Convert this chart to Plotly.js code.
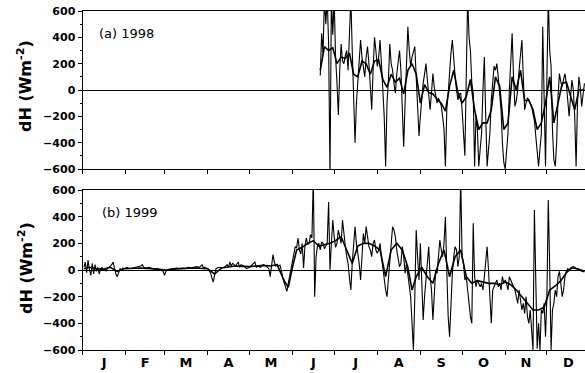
<!DOCTYPE html>
<html>
<head>
<meta charset="utf-8">
<script src="https://cdn.plot.ly/plotly-3.0.1.min.js"></script>
<style>html,body{margin:0;padding:0;background:#fff;}#chart{width:585px;height:373px;}</style>
</head>
<body>
<div id="chart"></div>
<script>
// Month labels and positions (day of year)
const monthLabels = ["J","F","M","A","M","J","J","A","S","O","N","D"];
const monthStarts = [0,31,59,90,120,151,181,212,243,273,304,334];
const monthMids = [15.5,45,74.5,105,135.5,166,196.5,227.5,258,288.5,319,349.5];
const yTicks = [-600,-400,-200,0,200,400,600];
const yMinor = [-500,-300,-100,100,300,500];

// (a) 1998 - raw series (day of year, W m-2)
const days98 = [171,172,173,174,175,176,177,178,179,180,181,182,183,184,185,186,187,188,189,190,
191,192,193,194,195,196,197,198,199,200,201,202,203,204,205,206,207,208,209,210,
211,212,213,214,215,216,217,218,219,220,221,222,223,224,225,226,227,228,229,230,
231,232,233,234,235,236,237,238,239,240,241,242,243,244,245,246,247,248,249,250,
251,252,253,254,255,256,257,258,259,260,261,262,263,264,265,266,267,268,269,270,
271,272,273,274,275,276,277,278,279,280,281,282,283,284,285,286,287,288,289,290,
291,292,293,294,295,296,297,298,299,300,301,302,303,304,305,306,307,308,309,310,
311,312,313,314,315,316,317,318,319,320,321,322,323,324,325,326,327,328,329,330,
331,332,333,334,335,336,337,338,339,340,341,342,343,344,345,346,347,348,349,350,
351,352,353,354,355,356,357,358,359,360,361];
const dH98 = [110,430,280,700,500,700,350,-650,700,420,700,250,60,-190,150,350,220,200,260,300,
150,450,700,300,-100,-400,-100,50,200,380,250,180,100,250,330,200,50,-150,150,400,
300,180,250,380,200,-25,-200,-580,-100,75,350,200,150,50,-25,120,200,300,150,-200,
-430,-100,200,480,300,180,250,300,330,100,-100,-350,-200,-50,50,120,200,80,-50,-150,
-20,125,20,-50,-100,-60,-100,-120,-200,-300,-580,-150,-25,150,280,380,220,100,0,-75,
-30,-25,-150,-300,-500,100,700,400,300,50,-25,-580,-200,-300,-580,-450,-330,0,250,-200,
-580,-450,-330,-75,50,180,150,200,100,-25,-150,-400,-550,-600,-450,-330,0,250,430,100,
-125,-80,0,150,300,380,100,-150,-100,-60,-75,-100,-125,-180,-230,-350,-450,-580,-450,-330,
480,-100,-580,100,700,300,180,-300,-530,-580,-400,-50,125,60,25,80,125,40,-80,-200,
-50,75,0,-200,-580,-100,100,20,-125,-30,50];

// (a) 1998 - smoothed series
const daysS98 = [171,174,177,180,183,186,189,192,195,198,201,204,207,210,213,216,219,222,225,228,
231,234,237,240,243,246,249,252,255,258,261,264,267,270,273,276,279,282,285,288,
291,294,297,300,303,306,309,312,315,318,321,324,327,330,333,336,339,342,345,348,
351,354,357,361];
const dHS98 = [150,330,300,320,200,250,240,280,120,100,220,200,120,220,230,80,20,120,60,90,
-30,150,200,120,-100,40,-20,-30,-70,-100,-160,30,150,-20,-100,-50,80,-150,-300,-250,
-250,-150,100,30,-300,-250,100,0,150,-80,-80,-150,-300,-250,-100,100,-250,-100,50,60,
-50,-150,0,0];

// (b) 1999 - raw series
const days99 = [1,2,3,4,5,6,7,8,9,10,11,12,13,14,15,16,17,18,19,20,21,22,23,24,25,26,27,28,29,30,
32,34,36,38,40,42,43,44,46,48,50,52,54,56,58,59,60,62,64,66,68,70,72,74,76,78,80,82,84,86,87,88,90,92,94,95,96,98,100,
102,104,105,106,107,108,110,112,113,114,116,118,120,122,124,125,126,128,130,132,134,135,136,137,138,139,140,
141,142,143,144,145,146,147,148,149,150,151,152,153,154,155,156,157,158,159,160,
161,162,163,164,165,166,167,168,169,170,171,172,173,174,175,176,177,178,179,180,
181,182,183,184,185,186,187,188,189,190,191,192,193,194,195,196,197,198,199,200,
201,202,203,204,205,206,207,208,209,210,211,212,213,214,215,216,217,218,219,220,
221,222,223,224,225,226,227,228,229,230,231,232,233,234,235,236,237,238,239,240,
241,242,243,244,245,246,247,248,249,250,251,252,253,254,255,256,257,258,259,260,
261,262,263,264,265,266,267,268,269,270,271,272,273,274,275,276,277,278,279,280,
281,282,283,284,285,286,287,288,289,290,291,292,293,294,295,296,297,298,299,300,
301,302,303,304,305,306,307,308,309,310,311,312,313,314,315,316,317,318,319,320,
321,322,323,324,325,326,327,328,329,330,331,332,333,334,335,336,337,338,339,340,
341,342,343,344,345,346,347,348,349,350,351,352,353,354,355,356,357,358,359,360,361];
const dH99 = [20,60,-20,75,0,-40,50,-30,40,-10,20,-30,10,20,0,10,-10,15,20,30,40,60,0,-30,-50,-10,10,0,15,10,
20,10,15,20,25,30,40,20,15,20,10,5,10,0,-10,-40,-10,5,10,10,15,10,15,10,20,15,20,25,20,40,15,20,10,-20,-90,-40,10,20,15,
20,40,20,60,30,50,30,60,20,40,30,10,20,40,60,20,30,20,40,30,10,-50,40,115,60,30,40,
30,37,0,-60,-100,-130,-160,-100,-40,-10,60,130,175,165,240,150,120,200,15,180,
240,190,200,265,240,700,-200,100,180,200,150,210,200,160,180,200,510,0,200,375,
250,170,200,300,250,200,375,250,180,100,50,-60,-150,50,200,325,200,125,50,-75,
100,275,200,325,250,175,150,100,200,225,150,125,150,200,100,0,-100,-150,-200,-50,
100,200,325,300,250,150,100,25,50,175,100,-25,50,-50,-150,-200,-400,-600,-200,300,
100,-75,200,-50,-375,-200,-75,100,175,-50,-150,-375,-200,0,-25,100,225,150,100,200,
400,0,-350,-500,-200,-25,100,175,150,25,100,700,100,50,-75,-50,-150,-275,-350,-400,
350,-50,-125,-75,-100,-125,-100,-150,-50,100,175,0,-200,-400,-150,-125,-100,-75,-125,-100,
-150,-50,-100,-75,-100,-150,-50,-75,-100,-125,-150,-200,-250,-150,-225,-300,-250,-325,-200,-350,
-400,-300,-450,-600,450,-200,-590,-400,-600,-300,-325,-250,-500,-200,525,25,-600,-300,-250,-150,
-200,-50,-10,-100,-200,-150,-50,-10,10,0,15,20,25,20,10,5,0,-5,-10,-12,-12];

// (b) 1999 - smoothed series
const daysS99 = [1,5,10,15,20,25,30,40,50,60,70,80,90,95,100,110,120,130,135,140,
145,148,151,154,158,162,166,170,174,178,182,186,190,194,198,202,206,210,214,218,
222,226,230,234,237,240,244,248,252,256,260,264,268,272,276,280,284,288,292,296,
300,304,308,312,316,320,324,328,332,336,340,344,348,352,356,361];
const dHS99 = [10,20,10,5,20,-10,10,15,10,0,10,15,10,-30,15,30,25,35,30,40,
-80,-130,20,150,170,200,220,180,190,200,220,250,150,50,180,200,200,180,150,-50,
150,200,150,20,-150,-50,20,-50,-100,50,150,-50,100,150,-50,-100,-80,-90,-100,-100,
-110,-90,-110,-150,-200,-250,-300,-300,-280,-150,-120,-80,-20,15,10,-10];

const FONT = "DejaVu Sans, Arial, sans-serif";
const thin = {color:"#000", width:1.1};
const thick = {color:"#000", width:1.6};

const traces = [
  {x:days98, y:dH98, type:"scatter", mode:"lines", line:thin, xaxis:"x", yaxis:"y", hoverinfo:"skip", name:"1998"},
  {x:daysS98, y:dHS98, type:"scatter", mode:"lines", line:thick, xaxis:"x", yaxis:"y", hoverinfo:"skip", name:"1998 smooth"},
  {x:days99, y:dH99, type:"scatter", mode:"lines", line:thin, xaxis:"x2", yaxis:"y2", hoverinfo:"skip", name:"1999"},
  {x:daysS99, y:dHS99, type:"scatter", mode:"lines", line:thick, xaxis:"x2", yaxis:"y2", hoverinfo:"skip", name:"1999 smooth"}
];

const H = 373, W = 585;
const xdom = [82.5/W, 1];
const xBase = {
  domain: xdom, range:[0,361.4], showgrid:false, zeroline:false,
  showline:true, linecolor:"#000", linewidth:1, mirror:true,
  tickmode:"array", tickvals:monthMids, ticktext:monthLabels, ticks:"", ticklen:0,
  minor:{tickmode:"array", tickvals:monthStarts, ticks:"outside", ticklen:4, tickcolor:"#000", tickwidth:1},
  tickfont:{family:FONT, size:13, color:"#000", weight:"bold"}, automargin:false, fixedrange:true
};
const yBase = {
  range:[-600,600], showgrid:false, zeroline:true, zerolinecolor:"#000", zerolinewidth:1,
  showline:true, linecolor:"#000", linewidth:1, mirror:false,
  tickmode:"array", tickvals:yTicks, ticks:"outside", ticklen:4, tickcolor:"#000",
  minor:{tickmode:"array", tickvals:yMinor, ticks:"outside", ticklen:2, tickcolor:"#000"},
  tickfont:{family:FONT, size:11, color:"#000", weight:"bold"}, automargin:false, fixedrange:true
};

const layout = {
  width:W, height:H, margin:{l:0,r:0,t:0,b:0},
  paper_bgcolor:"#fff", plot_bgcolor:"#fff", showlegend:false,
  xaxis: Object.assign({}, xBase, {anchor:"y", showticklabels:false}),
  yaxis: Object.assign({}, yBase, {anchor:"x", domain:[1-169/H, 1-11/H]}),
  xaxis2: Object.assign({}, xBase, {anchor:"y2", showticklabels:true}),
  yaxis2: Object.assign({}, yBase, {anchor:"x2", domain:[1-350/H, 1-190/H]}),
  annotations:[
    {text:"(a) 1998", xref:"paper", yref:"paper", x:97/W, y:1-33/H, xanchor:"left", yanchor:"middle", showarrow:false, font:{family:FONT,size:13,color:"#000"}},
    {text:"(b) 1999", xref:"paper", yref:"paper", x:100/W, y:1-212/H, xanchor:"left", yanchor:"middle", showarrow:false, font:{family:FONT,size:13,color:"#000"}},
    {text:"dH (Wm<sup>-2</sup>)", xref:"paper", yref:"paper", x:25/W, y:1-86/H, textangle:-90, xanchor:"center", yanchor:"middle", showarrow:false, font:{family:FONT,size:16,color:"#000", weight:"bold"}},
    {text:"dH (Wm<sup>-2</sup>)", xref:"paper", yref:"paper", x:25/W, y:1-268/H, textangle:-90, xanchor:"center", yanchor:"middle", showarrow:false, font:{family:FONT,size:16,color:"#000", weight:"bold"}}
  ]
};

Plotly.newPlot("chart", traces, layout, {displayModeBar:false, staticPlot:true});
</script>
</body>
</html>
